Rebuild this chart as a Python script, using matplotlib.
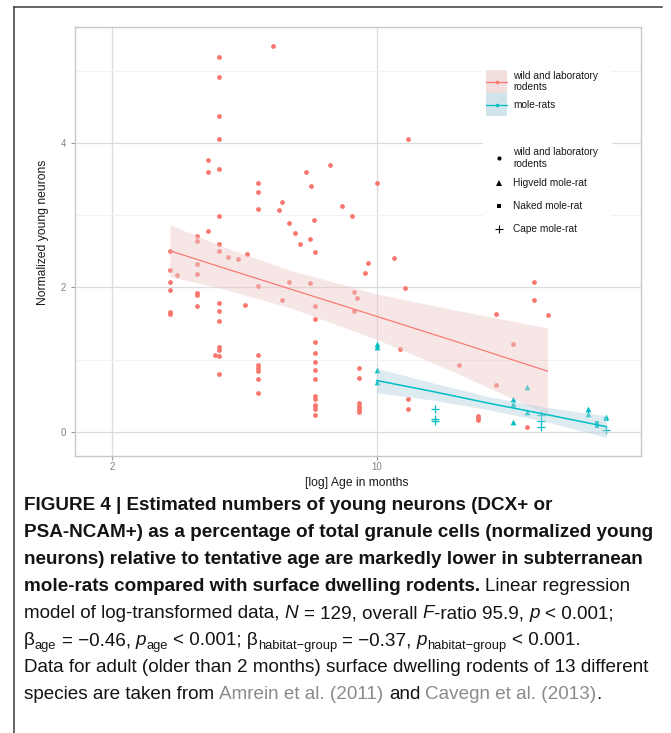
import matplotlib
matplotlib.use("Agg")
import matplotlib.pyplot as plt
from matplotlib.patches import Rectangle
from matplotlib.lines import Line2D
from matplotlib.ticker import FixedLocator, NullLocator, FixedFormatter

W, H, DPI = 671, 733, 100

# ---------------- data ----------------
wild_age = [2.84, 2.84, 2.84, 2.84, 2.84, 2.84,
            2.97,
            3.34, 3.34, 3.34, 3.34, 3.34, 3.34, 3.34,
            3.59, 3.59, 3.59,
            3.74,
            3.84, 3.84, 3.84, 3.84, 3.84, 3.84, 3.84, 3.84, 3.84, 3.84, 3.84, 3.84, 3.84, 3.84, 3.84,
            4.04, 4.29, 4.49, 4.53,
            4.85, 4.85, 4.85, 4.85, 4.85, 4.85, 4.85, 4.85, 4.85, 4.85,
            5.32, 5.52, 5.61, 5.61, 5.86, 5.86, 6.09, 6.28, 6.52, 6.67, 6.67, 6.71, 6.83,
            6.88, 6.88, 6.88, 6.88, 6.88, 6.88, 6.88, 6.88, 6.88, 6.88, 6.88, 6.88, 6.88, 6.88,
            7.55, 8.11, 8.60, 8.73, 8.73, 8.89,
            8.96, 8.96, 8.96, 8.96, 8.96, 8.96, 8.96,
            9.34, 9.48, 10.0, 11.1, 11.5, 11.9, 12.1, 12.1, 12.1,
            16.5, 18.5, 18.5, 18.5, 20.7, 20.7, 22.9, 25.0, 26.1, 26.1, 28.3]
wild_young = [2.50, 2.24, 2.07, 1.97, 1.66, 1.63,
              2.17,
              2.72, 2.64, 2.33, 2.19, 1.92, 1.89, 1.74,
              3.77, 3.60, 2.78,
              1.06,
              5.20, 4.92, 4.38, 4.06, 3.65, 2.99, 2.60, 2.50, 1.78, 1.68, 1.53, 1.18, 1.14, 1.05, 0.80,
              2.42, 2.40, 1.76, 2.46,
              3.45, 3.32, 3.09, 2.02, 1.06, 0.92, 0.88, 0.84, 0.73, 0.54,
              5.35, 3.07, 3.18, 1.83, 2.89, 2.07, 2.76, 2.61, 3.60, 2.67, 2.06, 3.41, 2.94,
              2.49, 1.74, 1.56, 1.25, 1.09, 0.96, 0.85, 0.73, 0.49, 0.45, 0.37, 0.35, 0.31, 0.23,
              3.70, 3.13, 2.99, 1.94, 1.68, 1.86,
              0.88, 0.74, 0.40, 0.36, 0.33, 0.30, 0.27,
              2.20, 2.34, 3.45, 2.41, 1.15, 1.99, 4.06, 0.46, 0.31,
              0.93, 0.22, 0.19, 0.16, 1.63, 0.65, 1.21, 0.07, 2.07, 1.82, 1.62]

higveld_age = [10.0, 10.0, 10.0, 10.0, 22.9, 22.9, 22.9, 25.0, 25.0, 36.1, 36.1, 40.5]
higveld_young = [1.22, 1.18, 0.86, 0.69, 0.46, 0.39, 0.13, 0.62, 0.28, 0.31, 0.24, 0.20]
naked_age = [38.2, 38.2, 40.5]
naked_young = [0.12, 0.08, 0.18]
cape_age = [14.3, 14.3, 14.3, 27.2, 27.2, 27.2, 40.5]
cape_young = [0.31, 0.17, 0.15, 0.23, 0.15, 0.06, 0.03]

# linear fits (y ~ log age) with confidence bands
wild_fit_age = [2.84, 4.0, 5.9, 10.0, 16.0, 28.3]
wild_fit = [2.51, 2.26, 1.98, 1.60, 1.26, 0.84]
wild_fit_lo = [2.15, 1.97, 1.72, 1.28, 0.83, 0.24]
wild_fit_hi = [2.87, 2.55, 2.24, 1.91, 1.69, 1.44]
mole_fit_age = [10.0, 14.0, 20.0, 28.0, 40.5]
mole_fit = [0.71, 0.56, 0.39, 0.24, 0.07]
mole_fit_lo = [0.54, 0.44, 0.30, 0.14, -0.08]
mole_fit_hi = [0.88, 0.68, 0.48, 0.34, 0.22]

x_ticks = [2, 10]
x_tick_labels = ["2", "10"]
y_ticks = [0, 2, 4]
y_tick_labels = ["0", "2", "4"]
y_minor = [1, 3, 5]

smooth_labels = ["wild and laboratory\nrodents", "mole-rats"]
shape_labels = ["wild and laboratory\nrodents", "Higveld mole-rat", "Naked mole-rat", "Cape mole-rat"]

x_title = "[log] Age in months"
y_title = "Normalized young neurons"

# ---------------- style ----------------
RED = "#F8766D"
TEAL = "#00BFC4"
RIB_RED = "#ecc8c8"
RIB_TEAL = "#b4d2de"
RIB_ALPHA = 0.45
FONT = ["Liberation Sans", "DejaVu Sans"]
CAP_FAMILY = ["Liberation Sans Narrow", "Liberation Sans", "DejaVu Sans"]

plt.rcParams["font.family"] = FONT


def fx(x):
    return x / W


def fy(y):
    return 1 - y / H


fig = plt.figure(figsize=(W / DPI, H / DPI), dpi=DPI)
fig.patch.set_facecolor("white")

ax = fig.add_axes([fx(75), fy(456), (640.7 - 75) / W, (456 - 26.7) / H])
ax.set_xscale("log")
ax.set_xlim(1.594, 49.9)
ax.set_ylim(-0.337, 5.617)
ax.xaxis.set_major_locator(FixedLocator(x_ticks))
ax.xaxis.set_major_formatter(FixedFormatter(x_tick_labels))
ax.xaxis.set_minor_locator(NullLocator())
ax.yaxis.set_major_locator(FixedLocator(y_ticks))
ax.yaxis.set_major_formatter(FixedFormatter(y_tick_labels))
ax.yaxis.set_minor_locator(FixedLocator(y_minor))
ax.set_axisbelow(True)
ax.grid(which="major", color="#dcdcdc", lw=0.9)
ax.grid(which="minor", axis="y", color="#f2f2f2", lw=0.7)
for s in ax.spines.values():
    s.set_color("#c8c8c8")
    s.set_linewidth(1.0)
ax.tick_params(which="minor", length=0)
ax.tick_params(which="major", length=3, width=0.8, color="#9a9a9a",
               labelcolor="#808080", labelsize=6.9)
ax.tick_params(axis="y", which="major", pad=3.5)
ax.tick_params(axis="x", which="major", pad=1.5)

# points
ax.scatter(wild_age, wild_young, s=12, color=RED, lw=0, zorder=2)
ax.scatter(higveld_age, higveld_young, s=17, marker="^", color=TEAL, lw=0, zorder=2)
ax.scatter(naked_age, naked_young, s=12, marker="s", color=TEAL, lw=0, zorder=2)
ax.scatter(cape_age, cape_young, s=32, marker="+", color=TEAL, lw=0.9, zorder=2)

# ribbons and fit lines
ax.fill_between(wild_fit_age, wild_fit_lo, wild_fit_hi, color=RIB_RED, alpha=RIB_ALPHA, lw=0, zorder=3)
ax.fill_between(mole_fit_age, mole_fit_lo, mole_fit_hi, color=RIB_TEAL, alpha=RIB_ALPHA, lw=0, zorder=3)
ax.plot(wild_fit_age, wild_fit, color=RED, lw=0.85, zorder=4)
ax.plot(mole_fit_age, mole_fit, color=TEAL, lw=1.1, zorder=4)

# axis titles
fig.text(fx(357), fy(483), x_title, ha="center", va="center", fontsize=8.7, color="#1a1a1a")
fig.text(fx(43), fy(232.5), y_title, ha="center", va="center", rotation=90,
         fontsize=8.7, color="#1a1a1a")

# ---------------- legends (inside panel) ----------------
LEG_FS = 7.3


def rect(x0, y0, x1, y1, **kw):
    fig.add_artist(Rectangle((fx(x0), fy(y1)), (x1 - x0) / W, (y1 - y0) / H,
                             transform=fig.transFigure, **kw))


rect(483, 63, 612, 121, facecolor="white", edgecolor="none", zorder=5)
key_cols = [(RED, RIB_RED, 70, 93), (TEAL, RIB_TEAL, 93, 116)]
for (lc, rc, y0, y1), lab in zip(key_cols, smooth_labels):
    rect(486, y0, 507, y1, facecolor=rc, alpha=RIB_ALPHA + 0.15, edgecolor="none", zorder=6)
    yc = (y0 + y1) / 2
    fig.add_artist(Line2D([fx(486), fx(507)], [fy(yc), fy(yc)], color=lc, lw=0.9,
                          transform=fig.transFigure, zorder=7))
    fig.add_artist(Line2D([fx(496.5)], [fy(yc)], color=lc, marker="o", ms=2.6, mew=0,
                          transform=fig.transFigure, zorder=7))
    fig.text(fx(513), fy(yc), lab, ha="left", va="center", fontsize=LEG_FS,
             color="#1a1a1a", linespacing=1.15, zorder=8)

rect(483, 140, 612, 246, facecolor="white", edgecolor="none", zorder=5)
shape_specs = [("o", 3.0, 158, 0), ("^", 3.8, 183, 0), ("s", 3.0, 206, 0), ("+", 5.5, 229, 0.8)]
for (m, ms, yc, mew), lab in zip(shape_specs, shape_labels):
    fig.add_artist(Line2D([fx(499)], [fy(yc)], color="black", marker=m, ms=ms, mew=mew,
                          linestyle="none", transform=fig.transFigure, zorder=7))
    fig.text(fx(513), fy(yc), lab, ha="left", va="center", fontsize=LEG_FS,
             color="#1a1a1a", linespacing=1.15, zorder=8)

# ---------------- frame lines ----------------
fig.add_artist(Line2D([fx(14), fx(14)], [fy(7), 0], color="#3c3c3c", lw=1.1,
                      transform=fig.transFigure))
fig.add_artist(Line2D([fx(14), fx(662)], [fy(7), fy(7)], color="#3c3c3c", lw=1.1,
                      transform=fig.transFigure))

# ---------------- caption ----------------
r = fig.canvas.get_renderer()


def measure(s, **kw):
    t = fig.text(0, 0, s, **kw)
    w = t.get_window_extent(renderer=r).width
    t.remove()
    return w


cap_lines = [
    [("FIGURE 4 | Estimated numbers of young neurons (DCX+ or", "b")],
    [("PSA-NCAM+) as a percentage of total granule cells (normalized young", "b")],
    [("neurons) relative to tentative age are markedly lower in subterranean", "b")],
    [("mole-rats compared with surface dwelling rodents.", "b"), (" Linear regression", "r")],
    [("model of log-transformed data, ", "r"), ("N", "i"), (" = 129, overall ", "r"), ("F", "i"),
     ("-ratio 95.9, ", "r"), ("p", "i"), (" < 0.001;", "r")],
    [("β", "r"), ("age", "s"), (" = −0.46, ", "r"), ("p", "i"), ("age", "s"), (" < 0.001; β", "r"),
     ("habitat−group", "s"), (" = −0.37, ", "r"), ("p", "i"), ("habitat−group", "s"),
     (" < 0.001.", "r")],
    [("Data for adult (older than 2 months) surface dwelling rodents of 13 different", "r")],
    [("species are taken from ", "r"), ("Amrein et al. (2011)", "g"), (" and ", "r"),
     ("Cavegn et al. (2013)", "g"), (".", "r")],
]

b_size = 10 * 619 / measure(cap_lines[2][0][0], fontsize=10, family=CAP_FAMILY, weight="bold")
r_size = 10 * 632 / measure(cap_lines[6][0][0], fontsize=10, family=CAP_FAMILY)

styles = {
    "b": (dict(family=CAP_FAMILY, weight="bold", fontsize=b_size, color="#141414"), 0),
    "r": (dict(family=CAP_FAMILY, fontsize=r_size, color="#141414"), 0),
    "i": (dict(family=CAP_FAMILY, style="italic", fontsize=r_size, color="#141414"), 0),
    "s": (dict(family=CAP_FAMILY, fontsize=r_size * 0.68, color="#141414"), 4.5),
    "g": (dict(family=CAP_FAMILY, fontsize=r_size, color="#8a8a8a"), 0),
}
space_cache = {}


def space_w(st):
    if st not in space_cache:
        kw = styles[st][0]
        space_cache[st] = measure("a a", **kw) - measure("aa", **kw)
    return space_cache[st]


def draw_runs(x0, base, runs):
    x = x0
    for text, st in runs:
        kw, dy = styles[st]
        lead = len(text) - len(text.lstrip(" "))
        trail = len(text) - len(text.rstrip(" "))
        core = text.strip(" ")
        x += lead * space_w(st)
        t = fig.text(fx(x), fy(base + dy), core, ha="left", va="baseline", **kw)
        x += t.get_window_extent(renderer=r).width
        x += trail * space_w(st)


for i, runs in enumerate(cap_lines):
    draw_runs(24, 510.5 + 26.9 * i, runs)

fig.savefig("out.png", dpi=DPI, facecolor="white")
